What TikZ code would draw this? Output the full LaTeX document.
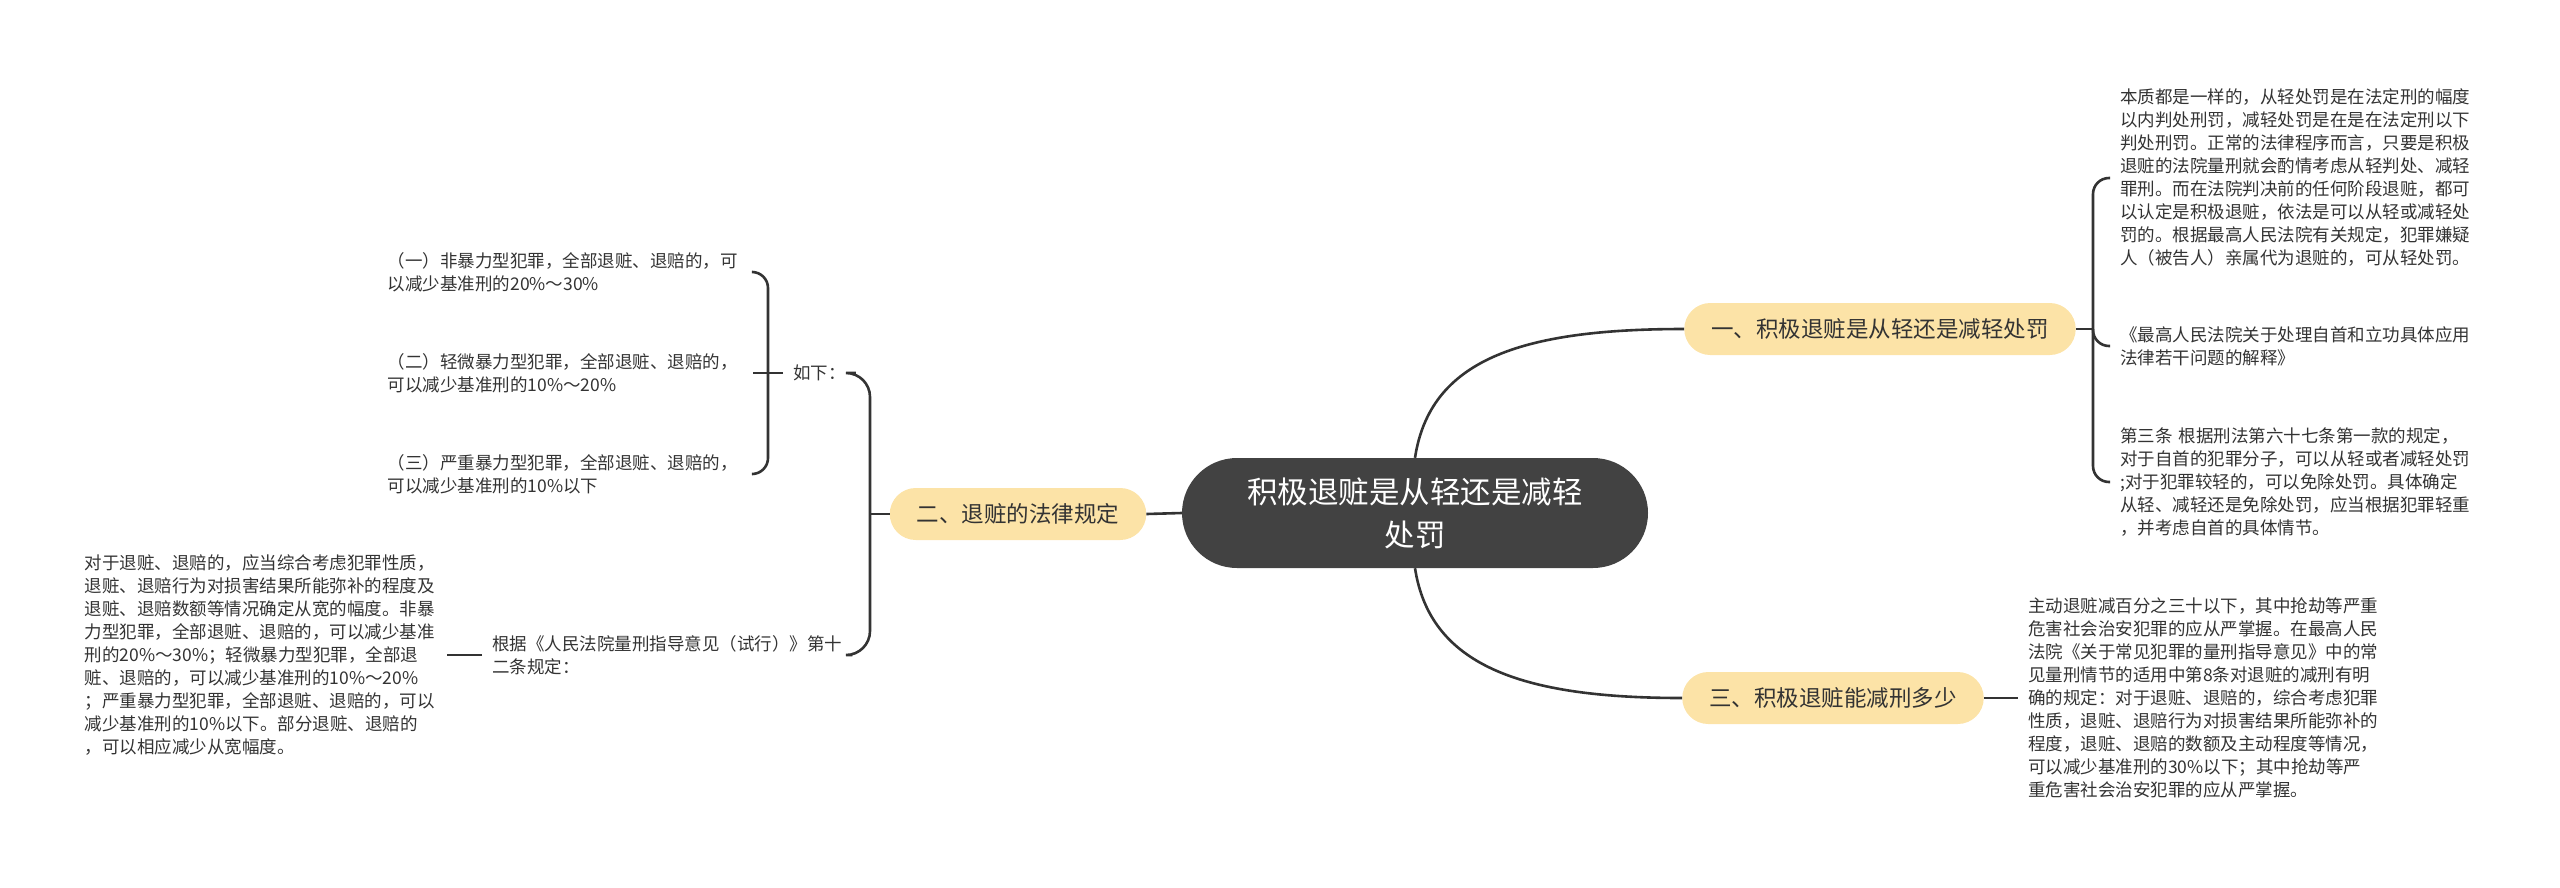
\documentclass[tikz,border=0pt]{standalone}
\usepackage{fontspec}
\setmainfont{Noto Sans CJK SC}
\usepackage{xcolor}
\usepackage{tikz}
\usetikzlibrary{positioning}
\definecolor{rootgray}{HTML}{424242}
\definecolor{subyellow}{HTML}{FCE3A7}
\definecolor{inkgray}{HTML}{333333}

\begin{document}
\begin{tikzpicture}[
  x=1pt, y=-1pt,
  root/.style={rectangle, rounded corners=55pt, fill=rootgray, text=white, minimum width=466pt, minimum height=110pt, align=center, font=\fontsize{30.5}{43}\selectfont},
  topic/.style={rectangle, rounded corners=26pt, fill=subyellow, text=inkgray, minimum height=52pt, inner xsep=27pt, font=\fontsize{22.5}{27}\selectfont},
  leaf/.style={align=left, inner sep=10pt, text=inkgray, font=\fontsize{17.5}{23}\selectfont},
  link/.style={draw=inkgray, line width=2.6pt},
  brace/.style={link, rounded corners=16pt}
]
  \useasboundingbox (0,0) rectangle (2560,887);

  \node[root] (root) at (1415,513) {积极退赃是从轻还是减轻\\处罚};
  \node[topic] (sub1) at (1880,329) {一、积极退赃是从轻还是减轻处罚};
  \node[topic] (sub2) at (1018,514) {二、退赃的法律规定};
  \node[topic] (sub3) at (1833,698) {三、积极退赃能减刑多少};

  \node[leaf, text width=360pt, anchor=west] (note11) at (2110,178) {本质都是一样的，从轻处罚是在法定刑的幅度\\以内判处刑罚，减轻处罚是在是在法定刑以下\\判处刑罚。正常的法律程序而言，只要是积极\\退赃的法院量刑就会酌情考虑从轻判处、减轻\\罪刑。而在法院判决前的任何阶段退赃，都可\\以认定是积极退赃，依法是可以从轻或减轻处\\罚的。根据最高人民法院有关规定，犯罪嫌疑\\人（被告人）亲属代为退赃的，可从轻处罚。};
  \node[leaf, text width=360pt, anchor=west] (note12) at (2110,346) {《最高人民法院关于处理自首和立功具体应用\\法律若干问题的解释》};
  \node[leaf, text width=360pt, anchor=west] (note13) at (2110,482) {第三条 根据刑法第六十七条第一款的规定，\\对于自首的犯罪分子，可以从轻或者减轻处罚\\;对于犯罪较轻的，可以免除处罚。具体确定\\从轻、减轻还是免除处罚，应当根据犯罪轻重\\，并考虑自首的具体情节。};
  \node[leaf, text width=360pt, anchor=west] (note3) at (2018,698) {主动退赃减百分之三十以下，其中抢劫等严重\\危害社会治安犯罪的应从严掌握。在最高人民\\法院《关于常见犯罪的量刑指导意见》中的常\\见量刑情节的适用中第8条对退赃的减刑有明\\确的规定：对于退赃、退赔的，综合考虑犯罪\\性质，退赃、退赔行为对损害结果所能弥补的\\程度，退赃、退赔的数额及主动程度等情况，\\可以减少基准刑的30\%以下；其中抢劫等严\\重危害社会治安犯罪的应从严掌握。};

  \node[leaf, anchor=west] (rule) at (783,373) {如下：};
  \node[leaf, text width=355pt, anchor=east] (caseA) at (753,272) {（一）非暴力型犯罪，全部退赃、退赔的，可\\以减少基准刑的20\%～30\%};
  \node[leaf, text width=355pt, anchor=east] (caseB) at (753,373) {（二）轻微暴力型犯罪，全部退赃、退赔的，\\可以减少基准刑的10\%～20\%};
  \node[leaf, text width=355pt, anchor=east] (caseC) at (753,474) {（三）严重暴力型犯罪，全部退赃、退赔的，\\可以减少基准刑的10\%以下};
  \node[leaf, anchor=west] (opinion) at (482,655) {根据《人民法院量刑指导意见（试行）》第十\\二条规定：};
  \node[leaf, text width=352pt, anchor=east] (detail) at (447,655) {对于退赃、退赔的，应当综合考虑犯罪性质，\\退赃、退赔行为对损害结果所能弥补的程度及\\退赃、退赔数额等情况确定从宽的幅度。非暴\\力型犯罪，全部退赃、退赔的，可以减少基准\\刑的20\%～30\%；轻微暴力型犯罪，全部退\\赃、退赔的，可以减少基准刑的10\%～20\%\\；严重暴力型犯罪，全部退赃、退赔的，可以\\减少基准刑的10\%以下。部分退赃、退赔的\\，可以相应减少从宽幅度。};

  \coordinate (j1) at (2093,329);
  \coordinate (j2) at (870,514);
  \coordinate (j3) at (768,373);

  \draw[link] (root.north) .. controls (1430,360) and (1520,329) .. (sub1.west);
  \draw[link] (root.south) .. controls (1430,665) and (1520,698) .. (sub3.west);
  \draw[link] (root.west) -- (sub2.east);

  \draw[link] (sub1.east) -- (j1);
  \draw[brace] (note11.west) -| (j1) |- (note13.west);
  \draw[brace] (j1) |- (note12.west);
  \draw[link] (sub3.east) -- (note3.west);

  \draw[link] (sub2.west) -- (j2);
  \draw[brace, rounded corners=24pt] (rule.east) -| (j2) |- (opinion.east);
  \draw[link] (opinion.west) -- (detail.east);
  \draw[link] (rule.west) -- (j3);
  \draw[brace] (caseA.east) -| (j3) |- (caseC.east);
  \draw[link] (j3) -- (caseB.east);
\end{tikzpicture}
\end{document}
